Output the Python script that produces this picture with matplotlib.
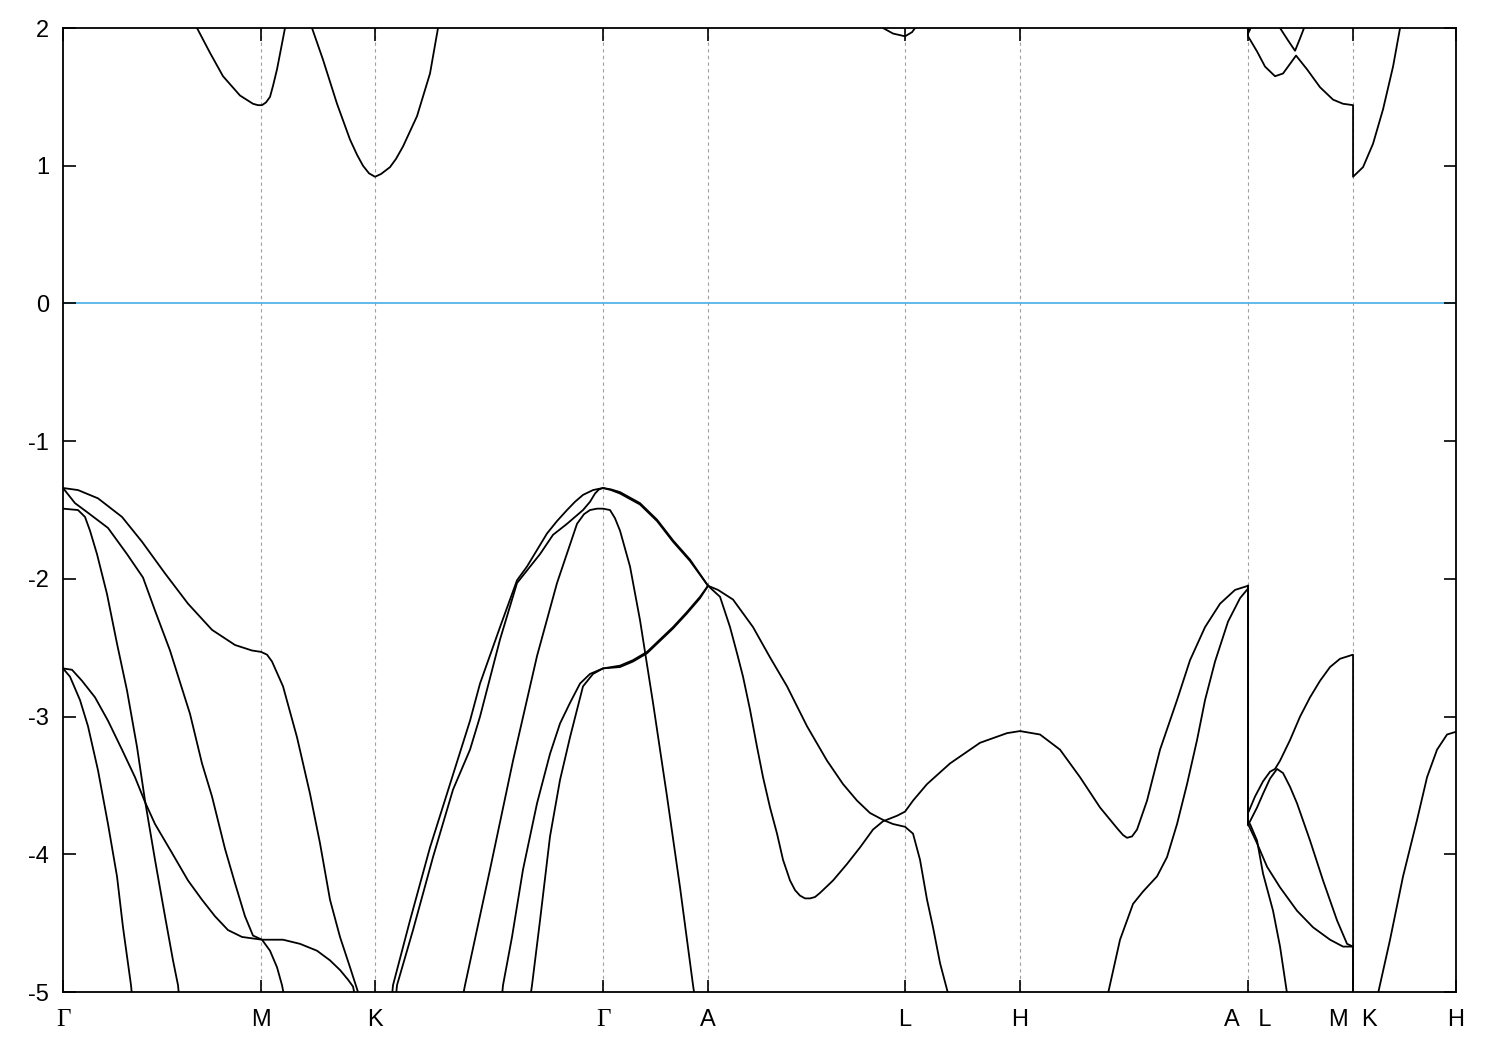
import numpy as np
import matplotlib.pyplot as plt

plt.rcParams['font.family'] = ['Liberation Sans', 'DejaVu Sans']
plt.rcParams['axes.unicode_minus'] = False

# high-symmetry points along the k-path (path units)
sym_k = [0.0, 1.98, 3.12, 5.40, 6.45, 8.42, 9.57, 11.85, 12.90, 13.93]
sym_labels = ['Γ', 'M', 'K', 'Γ', 'A', 'L', 'H', 'A   L', 'M  K', 'H']

# ---- valence bands, Gamma-M-K ----
gm_a_k = [0.00, 0.15, 0.35, 0.59, 0.79, 1.02, 1.25, 1.49, 1.72, 1.89, 1.98, 2.04, 2.09, 2.20, 2.34, 2.47, 2.57, 2.67, 2.77, 2.87, 2.95, 2.98]
gm_a_e = [-1.34, -1.355, -1.415, -1.55, -1.73, -1.96, -2.18, -2.37, -2.48, -2.52, -2.53, -2.55, -2.60, -2.78, -3.15, -3.56, -3.92, -4.33, -4.60, -4.82, -5.00, -5.10]

gm_b_k = [0.00, 0.12, 0.25, 0.45, 0.64, 0.80, 0.92, 1.07, 1.27, 1.39, 1.49, 1.62, 1.72, 1.82, 1.90, 1.99, 2.07, 2.14, 2.19, 2.23]
gm_b_e = [-1.34, -1.45, -1.52, -1.63, -1.82, -1.99, -2.23, -2.52, -2.98, -3.34, -3.58, -3.96, -4.21, -4.45, -4.59, -4.62, -4.70, -4.82, -4.95, -5.10]

gm_c_k = [0.00, 0.15, 0.22, 0.27, 0.34, 0.44, 0.54, 0.64, 0.74, 0.82, 0.92, 1.02, 1.10, 1.15, 1.17]
gm_c_e = [-1.49, -1.50, -1.55, -1.65, -1.82, -2.11, -2.47, -2.81, -3.22, -3.61, -4.04, -4.45, -4.77, -4.95, -5.10]

gm_d_k = [0.00, 0.09, 0.19, 0.32, 0.45, 0.59, 0.72, 0.82, 0.92, 1.09, 1.25, 1.39, 1.52, 1.65, 1.79, 1.99, 2.20, 2.37, 2.54, 2.67, 2.77, 2.85, 2.90, 2.94]
gm_d_e = [-2.65, -2.66, -2.74, -2.86, -3.03, -3.24, -3.44, -3.62, -3.78, -3.99, -4.19, -4.33, -4.45, -4.55, -4.60, -4.62, -4.62, -4.65, -4.70, -4.77, -4.84, -4.91, -4.96, -5.10]

gm_e_k = [0.00, 0.07, 0.17, 0.25, 0.35, 0.45, 0.54, 0.60, 0.68, 0.70]
gm_e_e = [-2.65, -2.71, -2.88, -3.07, -3.39, -3.78, -4.16, -4.53, -4.95, -5.10]

# ---- valence bands, K-Gamma-A ----
kg_o1_k = [3.28, 3.30, 3.47, 3.67, 3.87, 4.07, 4.17, 4.37, 4.54, 4.64, 4.74, 4.84, 4.94, 5.04, 5.12, 5.20, 5.30, 5.40, 5.48, 5.57, 5.67, 5.77, 5.94, 6.10, 6.27, 6.45]
kg_o1_e = [-5.10, -4.95, -4.48, -3.95, -3.49, -3.03, -2.76, -2.35, -2.01, -1.91, -1.79, -1.67, -1.58, -1.50, -1.44, -1.39, -1.355, -1.34, -1.35, -1.37, -1.41, -1.45, -1.57, -1.72, -1.86, -2.05]

kg_o2_k = [3.32, 3.34, 3.50, 3.70, 3.90, 4.07, 4.17, 4.37, 4.54, 4.77, 4.90, 5.04, 5.20, 5.27, 5.32, 5.36, 5.40, 5.48, 5.57, 5.67, 5.77, 5.94, 6.10, 6.27, 6.45]
kg_o2_e = [-5.10, -4.95, -4.55, -4.02, -3.53, -3.24, -3.00, -2.44, -2.03, -1.82, -1.68, -1.60, -1.50, -1.44, -1.38, -1.35, -1.34, -1.355, -1.38, -1.42, -1.46, -1.58, -1.73, -1.87, -2.05]

kg_q_k = [3.98, 4.02, 4.27, 4.50, 4.74, 4.94, 5.14, 5.21, 5.27, 5.34, 5.40, 5.47, 5.52, 5.57, 5.67, 5.77, 5.90, 6.04, 6.17, 6.30, 6.33]
kg_q_e = [-5.10, -4.95, -4.11, -3.32, -2.56, -2.03, -1.60, -1.53, -1.50, -1.49, -1.49, -1.50, -1.56, -1.65, -1.91, -2.30, -2.90, -3.58, -4.24, -4.95, -5.10]

kg_r1_k = [4.38, 4.40, 4.49, 4.60, 4.74, 4.87, 4.97, 5.07, 5.17, 5.27, 5.40, 5.57, 5.70, 5.84, 5.97, 6.10, 6.24, 6.37, 6.45]
kg_r1_e = [-5.10, -4.95, -4.60, -4.11, -3.63, -3.27, -3.05, -2.90, -2.76, -2.69, -2.65, -2.63, -2.59, -2.53, -2.44, -2.35, -2.24, -2.13, -2.05]

kg_r2_k = [4.66, 4.69, 4.77, 4.87, 4.97, 5.07, 5.14, 5.20, 5.30, 5.40, 5.57, 5.70, 5.84, 5.97, 6.10, 6.24, 6.37, 6.45]
kg_r2_e = [-5.10, -4.95, -4.48, -3.87, -3.46, -3.15, -2.95, -2.78, -2.69, -2.65, -2.64, -2.60, -2.54, -2.45, -2.36, -2.25, -2.14, -2.05]

# ---- valence bands, A-L-H-A | L-M | K-H ----
al_u_k = [6.45, 6.55, 6.70, 6.90, 7.07, 7.24, 7.44, 7.64, 7.80, 7.94, 8.07, 8.20, 8.30, 8.42, 8.50, 8.57, 8.64, 8.70, 8.77, 8.85, 8.87]
al_u_e = [-2.05, -2.08, -2.15, -2.35, -2.57, -2.78, -3.07, -3.32, -3.49, -3.61, -3.70, -3.75, -3.78, -3.80, -3.85, -4.04, -4.33, -4.53, -4.79, -5.01, -5.10]

al_d_k = [6.45, 6.57, 6.67, 6.74, 6.80, 6.87, 6.94, 7.00, 7.07, 7.14, 7.20, 7.27, 7.32, 7.37, 7.42, 7.47, 7.52, 7.57, 7.70, 7.84, 7.97, 8.10,
          8.20, 8.34, 8.42, 8.50, 8.64, 8.87, 9.17, 9.44, 9.57, 9.77, 9.97, 10.17, 10.37, 10.54, 10.60, 10.64, 10.69, 10.74, 10.84, 10.97,
          11.14, 11.27, 11.42, 11.57, 11.72, 11.85,
          11.85, 11.92, 12.00, 12.07, 12.12, 12.17, 12.27, 12.37, 12.47, 12.57, 12.67, 12.77, 12.90, 12.90]
al_d_e = [-2.05, -2.13, -2.35, -2.54, -2.71, -2.95, -3.22, -3.44, -3.66, -3.85, -4.04, -4.19, -4.26, -4.30, -4.32, -4.32, -4.31, -4.28, -4.19, -4.07, -3.95, -3.82,
          -3.76, -3.72, -3.69, -3.61, -3.49, -3.34, -3.19, -3.12, -3.105, -3.13, -3.24, -3.44, -3.66, -3.81, -3.86, -3.88, -3.87, -3.82, -3.61, -3.24,
          -2.88, -2.59, -2.35, -2.18, -2.08, -2.05,
          -3.70, -3.58, -3.47, -3.40, -3.38, -3.32, -3.17, -3.00, -2.86, -2.74, -2.64, -2.58, -2.55, -5.10]

ha_rise_k = [10.43, 10.45, 10.57, 10.70, 10.80, 10.94, 11.04, 11.14, 11.24, 11.34, 11.42, 11.52, 11.65, 11.77, 11.85,
             11.85, 11.87, 11.94, 12.00, 12.07, 12.14, 12.20, 12.27, 12.34, 12.47, 12.60, 12.74, 12.84, 12.90, 12.90]
ha_rise_e = [-5.10, -5.01, -4.62, -4.36, -4.27, -4.16, -4.02, -3.78, -3.49, -3.17, -2.88, -2.60, -2.31, -2.14, -2.07,
             -3.79, -3.76, -3.66, -3.56, -3.45, -3.38, -3.41, -3.51, -3.63, -3.90, -4.19, -4.48, -4.65, -4.67, -5.10]

lm_d1_k = [11.85, 11.85, 11.94, 12.04, 12.17, 12.34, 12.50, 12.67, 12.80, 12.90]
lm_d1_e = [-2.05, -3.78, -3.92, -4.09, -4.24, -4.41, -4.53, -4.62, -4.67, -4.67]

lm_st_k = [11.85, 11.85, 11.87, 11.94, 12.00, 12.10, 12.17, 12.24, 12.26]
lm_st_e = [-2.05, -3.78, -3.78, -3.90, -4.14, -4.41, -4.67, -5.01, -5.10]

kh_k = [13.13, 13.15, 13.27, 13.40, 13.54, 13.64, 13.74, 13.84, 13.93]
kh_e = [-5.10, -5.01, -4.62, -4.16, -3.75, -3.44, -3.24, -3.13, -3.11]

# ---- conduction bands ----
cb1_k = [1.31, 1.34, 1.47, 1.60, 1.77, 1.90, 1.95, 1.99, 2.03, 2.07, 2.10, 2.14, 2.18, 2.22, 2.23]
cb1_e = [2.05, 2.00, 1.82, 1.65, 1.51, 1.45, 1.44, 1.44, 1.46, 1.50, 1.58, 1.70, 1.85, 2.00, 2.05]

cb2_k = [2.47, 2.49, 2.60, 2.74, 2.87, 2.94, 3.00, 3.06, 3.12, 3.18, 3.27, 3.33, 3.40, 3.54, 3.67, 3.75, 3.76]
cb2_e = [2.05, 2.00, 1.77, 1.45, 1.19, 1.08, 1.00, 0.945, 0.92, 0.94, 0.99, 1.05, 1.14, 1.36, 1.67, 2.00, 2.05]

cb3_k = [8.18, 8.20, 8.30, 8.42, 8.49, 8.54]
cb3_e = [2.02, 2.00, 1.96, 1.94, 1.97, 2.02]

cb4_k = [11.85, 11.85, 11.94, 12.02, 12.12, 12.20, 12.29, 12.33, 12.44, 12.57, 12.70, 12.80, 12.90, 12.90, 13.00, 13.10, 13.20, 13.30, 13.37, 13.38]
cb4_e = [2.05, 1.94, 1.83, 1.72, 1.65, 1.67, 1.76, 1.80, 1.70, 1.57, 1.48, 1.45, 1.44, 0.92, 0.99, 1.16, 1.41, 1.72, 2.00, 2.05]

cb5_k = [11.85, 11.87, 11.90]
cb5_e = [1.96, 1.99, 2.05]

cb6_k = [12.16, 12.17, 12.25, 12.32, 12.37, 12.41, 12.42]
cb6_e = [2.05, 2.00, 1.91, 1.835, 1.925, 2.00, 2.05]

bands = [
    (gm_a_k, gm_a_e), (gm_b_k, gm_b_e), (gm_c_k, gm_c_e), (gm_d_k, gm_d_e), (gm_e_k, gm_e_e),
    (kg_o1_k, kg_o1_e), (kg_o2_k, kg_o2_e), (kg_q_k, kg_q_e), (kg_r1_k, kg_r1_e), (kg_r2_k, kg_r2_e),
    (al_u_k, al_u_e), (al_d_k, al_d_e), (ha_rise_k, ha_rise_e), (lm_d1_k, lm_d1_e), (lm_st_k, lm_st_e),
    (kh_k, kh_e),
    (cb1_k, cb1_e), (cb2_k, cb2_e), (cb3_k, cb3_e), (cb4_k, cb4_e), (cb5_k, cb5_e), (cb6_k, cb6_e),
]

fig = plt.figure(figsize=(15, 10.5), dpi=100)
ax = fig.add_subplot(111)
fig.subplots_adjust(left=0.042, right=0.9707, top=0.9733, bottom=0.0552)

for xk in sym_k[1:-1]:
    ax.axvline(xk, color='#a0a0a0', lw=0.8, ls=(0, (3, 3)), zorder=0)

ax.axhline(0, color='#56b4e9', lw=1.3, zorder=1)

for k, e in bands:
    ax.plot(k, e, color='black', lw=1.3, zorder=2, solid_joinstyle='round')

ax.set_xlim(sym_k[0], sym_k[-1])
ax.set_ylim(-5, 2)
ax.set_xticks(sym_k)
ax.set_xticklabels(sym_labels)
ax.set_yticks(np.arange(-5, 3, 1))
ax.tick_params(direction='in', length=9, width=1.2, top=True, right=True, labelsize=17)
ax.tick_params(axis='x', pad=12)
ax.tick_params(axis='y', pad=10)
for lbl in ax.get_xticklabels():
    if lbl.get_text() == 'Γ':
        lbl.set_fontfamily('Liberation Serif')
        lbl.set_fontsize(18)
for sp in ax.spines.values():
    sp.set_linewidth(1.3)

fig.savefig('out.png', dpi=100)
